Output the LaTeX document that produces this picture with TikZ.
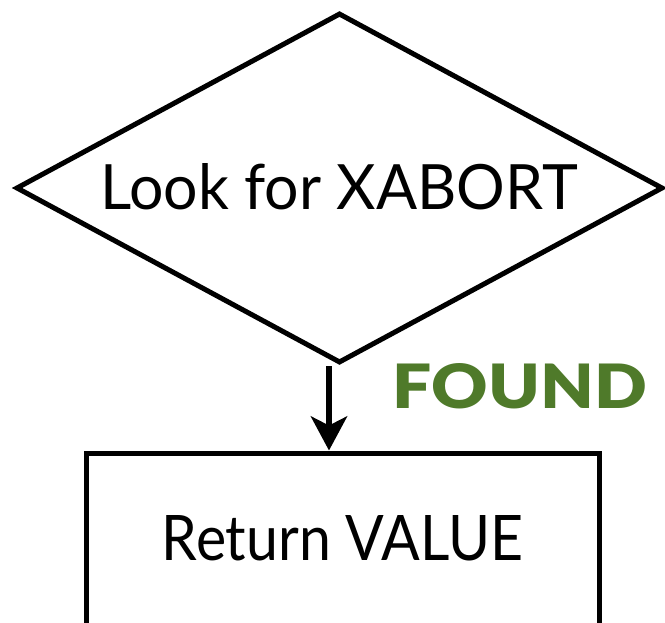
\documentclass[tikz,border=0pt]{standalone}
\usepackage{fontspec}
\setmainfont{Lato}
\newfontfamily\heavyfont{Lato Black}
\usetikzlibrary{shapes.geometric,arrows.meta}
\definecolor{foundgreen}{HTML}{4F7A2A}
\tikzset{
  outline/.style={draw=black, line width=5pt, line join=miter},
  decision/.style={outline, diamond, aspect=1.849, inner sep=0pt,
    minimum width=647pt, minimum height=350pt},
  action/.style={outline, rectangle, inner sep=0pt,
    minimum width=513pt, minimum height=200pt},
  caption/.style={inner sep=0pt, anchor=base},
  flow/.style={line width=6.5pt, -{Stealth[length=34pt,width=36pt,inset=9pt]}}
}
\begin{document}
\begin{tikzpicture}[x=1pt,y=-1pt]
  \useasboundingbox (0,0) rectangle (665,623);
  \clip (0,0) rectangle (665,623);
  % decision diamond and action box
  \node[decision] (look) at (339.5,188) {};
  \node[action] (ret) at (342.5,553) {};
  % texts
  \node[caption] (looktext) at (339,210) {\resizebox{478pt}{46pt}{Look for XABORT}};
  \node[caption] (rettext) at (342.5,560) {\resizebox{361pt}{45pt}{Return VALUE}};
  \node[caption, text=foundgreen] (found) at (520,408) {\resizebox{254pt}{45pt}{\heavyfont FOUND}};
  % connector
  \coordinate (start) at (329,366);
  \draw[flow] (start) -- (start |- ret.north);
\end{tikzpicture}
\end{document}
